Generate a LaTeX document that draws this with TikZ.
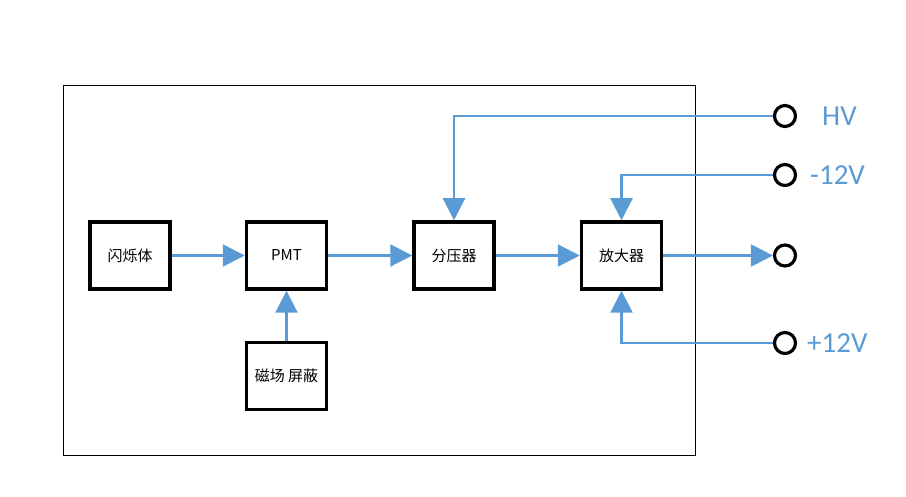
\documentclass[tikz,border=0pt]{standalone}
\usepackage{fontspec}
\setmainfont{Noto Sans CJK SC}
\newfontfamily\lblfont{Carlito}
\usetikzlibrary{arrows.meta}
\definecolor{lineblue}{HTML}{5B9BD5}
\tikzset{
  blk/.style={draw=black, line width=3.5pt, minimum width=80pt, minimum height=67pt, inner sep=0pt, font=\fontsize{15}{17}\selectfont},
  conn/.style={draw=lineblue, line width=2.2pt, -{Triangle[length=22pt,width=22pt]}},
  term/.style={circle, draw=black, line width=3.2pt, minimum size=21pt, inner sep=0pt},
  vlbl/.style={text=lineblue, font=\lblfont\fontsize{29}{32}\selectfont, anchor=west, inner sep=0pt},
}
\begin{document}
\begin{tikzpicture}[x=1pt,y=-1pt]
\useasboundingbox (0,0) rectangle (906,497);
\node[draw=black, line width=1pt, minimum width=632pt, minimum height=369pt, inner sep=0pt] (frame) at (379,270.5) {};
\node[blk] (sc) at (130,255.5) {闪烁体};
\node[blk] (pmt) at (286.5,255.5) {PMT};
\node[blk] (div) at (454,255.5) {分压器};
\node[blk] (amp) at (621.5,255.5) {放大器};
\node[blk] (mag) at (286.5,376) {磁场 屏蔽};
\node[term] (thv) at (785,116) {};
\node[term] (tm) at (785,175) {};
\node[term] (tout) at (785,255.5) {};
\node[term] (tp) at (785,343) {};
\node[vlbl] (lhv) at (822,116) {HV};
\node[vlbl] (lm) at (810,175) {-12V};
\node[vlbl] (lp) at (807,343) {+12V};
\draw[conn] (sc.east) -- (pmt.west);
\draw[conn] (pmt.east) -- (div.west);
\draw[conn] (div.east) -- (amp.west);
\draw[conn] (amp.east) -- (tout.west);
\draw[conn] (mag.north) -- (pmt.south);
\draw[conn] (thv.west) -| (div.north);
\draw[conn] (tm.west) -| (amp.north);
\draw[conn] (tp.west) -| (amp.south);
\end{tikzpicture}
\end{document}
